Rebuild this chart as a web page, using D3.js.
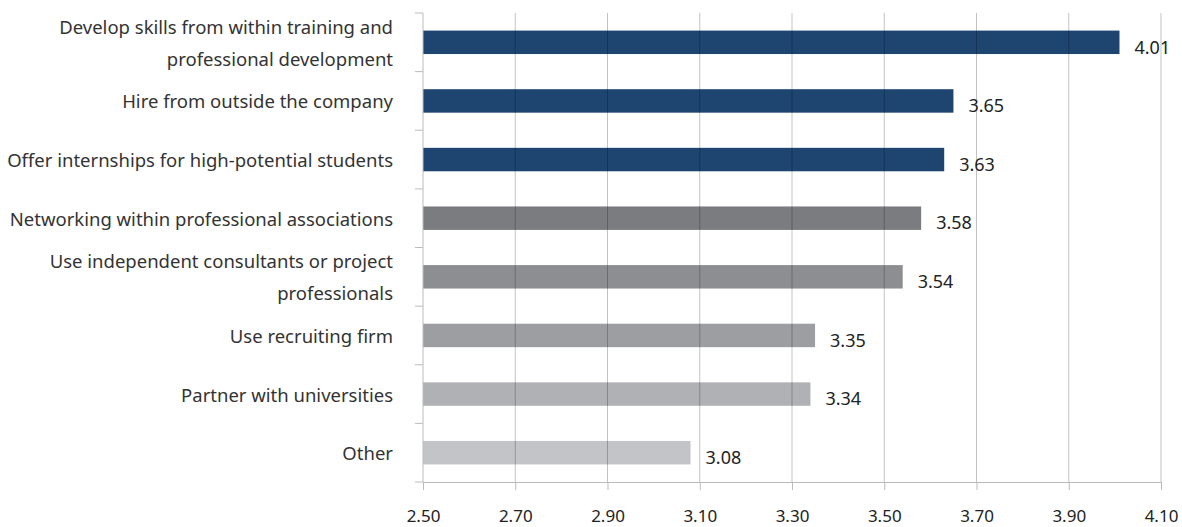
<!DOCTYPE html>
<html>
<head>
<meta charset="utf-8">
<script src="https://cdn.jsdelivr.net/npm/d3@7"></script>
<style>
  html, body { margin: 0; padding: 0; background: #fff; }
  svg { display: block; }
</style>
</head>
<body>
<svg id="chart" width="1182" height="527"></svg>
<script>
// Category labels (lines split where the text wraps)
const categories = [
  ["Develop skills from within training and", "professional development"],
  ["Hire from outside the company"],
  ["Offer internships for high-potential students"],
  ["Networking within professional associations"],
  ["Use independent consultants or project", "professionals"],
  ["Use recruiting firm"],
  ["Partner with universities"],
  ["Other"]
];
const values = [4.01, 3.65, 3.63, 3.58, 3.54, 3.35, 3.34, 3.08];
const barColors = ["#1d4570", "#1d4570", "#1d4570", "#7b7c80", "#8d8e92", "#9d9ea1", "#b0b1b4", "#c3c4c7"];
const xTicks = [2.5, 2.7, 2.9, 3.1, 3.3, 3.5, 3.7, 3.9, 4.1];

const svg = d3.select("#chart");
const margin = { left: 423, right: 21, top: 13, bottom: 45 };
const W = 1182, H = 527;
const font = "'Noto Sans', sans-serif";

const x = d3.scaleLinear().domain([2.5, 4.1]).range([margin.left, W - margin.right]);
const y = d3.scaleBand().domain(d3.range(categories.length))
  .range([margin.top, H - margin.bottom]).paddingInner(0.6).paddingOuter(0.3);
const band = d3.scaleBand().domain(d3.range(categories.length))
  .range([margin.top, H - margin.bottom]);

// Bars
svg.append("g").selectAll("rect").data(values).join("rect")
  .attr("x", x(2.5))
  .attr("y", (d, i) => y(i))
  .attr("width", d => x(d) - x(2.5))
  .attr("height", y.bandwidth())
  .attr("fill", (d, i) => barColors[i]);

// Vertical gridlines, drawn over the bars
svg.append("g").selectAll("line").data(xTicks.slice(1)).join("line")
  .attr("x1", d => x(d)).attr("x2", d => x(d))
  .attr("y1", margin.top).attr("y2", H - margin.bottom)
  .attr("stroke", "rgba(0,0,0,0.24)").attr("stroke-width", 1);

// Bottom axis
const xAxis = svg.append("g")
  .attr("transform", `translate(0,${H - margin.bottom})`)
  .call(d3.axisBottom(x).tickValues(xTicks).tickFormat(d3.format(".2f")).tickSize(8).tickPadding(20));
xAxis.select(".domain").attr("stroke", "#bbb");
xAxis.selectAll(".tick line").attr("stroke", "#bbb");
xAxis.selectAll("text").attr("font-family", font).attr("font-size", 17).attr("fill", "#222");

// Left axis: boundary ticks between categories
const yAxisG = svg.append("g");
yAxisG.append("line")
  .attr("x1", x(2.5)).attr("x2", x(2.5))
  .attr("y1", margin.top).attr("y2", H - margin.bottom)
  .attr("stroke", "#bbb");
yAxisG.selectAll("line.tk").data(d3.range(categories.length + 1)).join("line")
  .attr("class", "tk")
  .attr("x1", x(2.5) - 8).attr("x2", x(2.5))
  .attr("y1", i => i < categories.length ? band(i) : band(categories.length - 1) + band.bandwidth())
  .attr("y2", i => i < categories.length ? band(i) : band(categories.length - 1) + band.bandwidth())
  .attr("stroke", "#bbb");

// Category labels
const lineGap = 32;
svg.append("g").selectAll("text").data(categories).join("text")
  .attr("font-family", font).attr("font-size", 18.5).attr("fill", "#333")
  .attr("text-anchor", "end")
  .each(function (lines, i) {
    const cy = band(i) + band.bandwidth() / 2;
    const start = cy - (lines.length - 1) * lineGap / 2;
    d3.select(this).selectAll("tspan").data(lines).join("tspan")
      .attr("x", 393)
      .attr("y", (l, j) => start + j * lineGap + 1)
      .attr("dy", "0.35em")
      .text(l => l);
  });

// Value labels
svg.append("g").selectAll("text").data(values).join("text")
  .attr("x", d => x(d) + 15)
  .attr("y", (d, i) => y(i) + y.bandwidth() / 2 + 5)
  .attr("dy", "0.35em")
  .attr("font-family", font).attr("font-size", 18).attr("fill", "#222")
  .text(d => d3.format(".2f")(d));
</script>
</body>
</html>
